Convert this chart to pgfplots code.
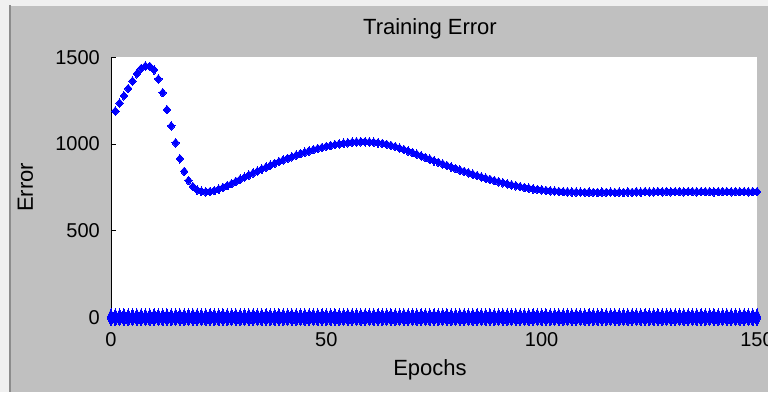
\documentclass[border=0pt]{standalone}
\usepackage{pgfplots}
\pgfplotsset{compat=1.18}
\usepackage{pgfplotstable}
\usepackage{fontspec}
\setmainfont{Liberation Sans}
\definecolor{figbg}{HTML}{C0C0C0}
\definecolor{outerbg}{HTML}{F0F0F0}
\definecolor{edgeline}{HTML}{8C8C8C}
\pgfplotstableread{
ep err
1 1190
2 1236
3 1278
4 1320
5 1363
6 1405
7 1436
8 1450
9 1448
10 1428
11 1375
12 1296
13 1198
14 1104
15 1007
16 915
17 842
18 789
19 755
20 735
21 727
22 724
23 726
24 731
25 739
26 749
27 760
28 771
29 784
30 797
31 808
32 820
33 832
34 843
35 855
36 866
37 877
38 888
39 898
40 908
41 917
42 926
43 935
44 944
45 952
46 960
47 967
48 974
49 980
50 986
51 991
52 996
53 1000
54 1004
55 1007
56 1010
57 1012
58 1013
59 1013
60 1012
61 1010
62 1007
63 1003
64 998
65 992
66 985
67 976
68 968
69 959
70 950
71 941
72 932
73 922
74 913
75 903
76 894
77 885
78 876
79 867
80 858
81 850
82 842
83 834
84 826
85 818
86 810
87 803
88 796
89 789
90 782
91 776
92 770
93 764
94 759
95 754
96 749
97 745
98 741
99 738
100 735
101 732
102 730
103 728
104 726
105 725
106 724
107 723
108 722
109 722
110 721
111 722
112 721
113 720
114 722
115 721
116 722
117 720
118 722
119 721
120 723
121 721
122 724
123 722
124 725
125 723
126 724
127 725
128 724
129 725
130 724
131 725
132 725
133 724
134 725
135 725
136 724
137 725
138 725
139 725
140 724
141 725
142 725
143 725
144 724
145 725
146 725
147 725
148 724
149 725
150 725
}\errtable
\pgfplotstableread{
ep val
0 0
1 0
2 0
3 0
4 0
5 0
6 0
7 0
8 0
9 0
10 0
11 0
12 0
13 0
14 0
15 0
16 0
17 0
18 0
19 0
20 0
21 0
22 0
23 0
24 0
25 0
26 0
27 0
28 0
29 0
30 0
31 0
32 0
33 0
34 0
35 0
36 0
37 0
38 0
39 0
40 0
41 0
42 0
43 0
44 0
45 0
46 0
47 0
48 0
49 0
50 0
51 0
52 0
53 0
54 0
55 0
56 0
57 0
58 0
59 0
60 0
61 0
62 0
63 0
64 0
65 0
66 0
67 0
68 0
69 0
70 0
71 0
72 0
73 0
74 0
75 0
76 0
77 0
78 0
79 0
80 0
81 0
82 0
83 0
84 0
85 0
86 0
87 0
88 0
89 0
90 0
91 0
92 0
93 0
94 0
95 0
96 0
97 0
98 0
99 0
100 0
101 0
102 0
103 0
104 0
105 0
106 0
107 0
108 0
109 0
110 0
111 0
112 0
113 0
114 0
115 0
116 0
117 0
118 0
119 0
120 0
121 0
122 0
123 0
124 0
125 0
126 0
127 0
128 0
129 0
130 0
131 0
132 0
133 0
134 0
135 0
136 0
137 0
138 0
139 0
140 0
141 0
142 0
143 0
144 0
145 0
146 0
147 0
148 0
149 0
150 0
}\basetable
\begin{document}
\begin{tikzpicture}
\useasboundingbox (0,0) rectangle (768pt,392pt);
\clip (0,0) rectangle (768pt,392pt);
\fill[outerbg] (0,0) rectangle (768pt,392pt);
\fill[figbg] (11pt,0) rectangle (768pt,386pt);
\fill[edgeline] (9pt,0) rectangle (11pt,387pt);
\begin{axis}[
  at={(111pt,74.7pt)}, anchor=south west,
  scale only axis, width=646pt, height=260pt,
  xmin=0, xmax=150, ymin=0, ymax=1500,
  clip=false,
  axis background/.style={fill=white},
  axis lines*=left,
  axis line style={-, black, line width=0.7pt},
  every outer x axis line/.append style={-},
  every outer y axis line/.append style={-},
  x axis line style={draw=none},
  xtick={0,50,100,150}, ytick={0,500,1000,1500},
  tick align=inside, major tick length=5pt,
  tick style={black, line width=0.6pt},
  xtick style={draw=none},
  scaled ticks=false,
  /pgf/number format/1000 sep={},
  /pgf/number format/assume math mode=true,
  xticklabel style={font=\fontsize{20}{24}\selectfont, anchor=base, inner sep=0pt, yshift=-29pt},
  yticklabel style={font=\fontsize{20}{24}\selectfont, anchor=east, inner sep=0pt, xshift=-11pt},
  title={Training Error},
  title style={font=\fontsize{22}{26}\selectfont, at={(0.5,1)}, anchor=base, inner sep=0pt, yshift=17.3pt, xshift=-4pt},
  xlabel={Epochs},
  xlabel style={font=\fontsize{22}{26}\selectfont, at={(0.5,0)}, anchor=base, inner sep=0pt, yshift=-57.7pt, xshift=-4pt},
  ylabel={Error},
  ylabel style={font=\fontsize{22}{26}\selectfont, at={(axis description cs:0,0.5)}, anchor=base, inner sep=0pt, yshift=78pt},
]
\addplot[only marks, mark=diamond*, mark size=8.5pt, color=blue,
  mark options={draw=blue, fill=blue, line width=0pt, xscale=0.6}]
  table[x=ep, y=val] {\basetable};
\addplot[only marks, mark=diamond*, mark size=4.3pt, color=blue,
  mark options={draw=blue, fill=blue, line width=0pt, xscale=1.15}]
  table[x=ep, y=err] {\errtable};
\end{axis}
\end{tikzpicture}
\end{document}
